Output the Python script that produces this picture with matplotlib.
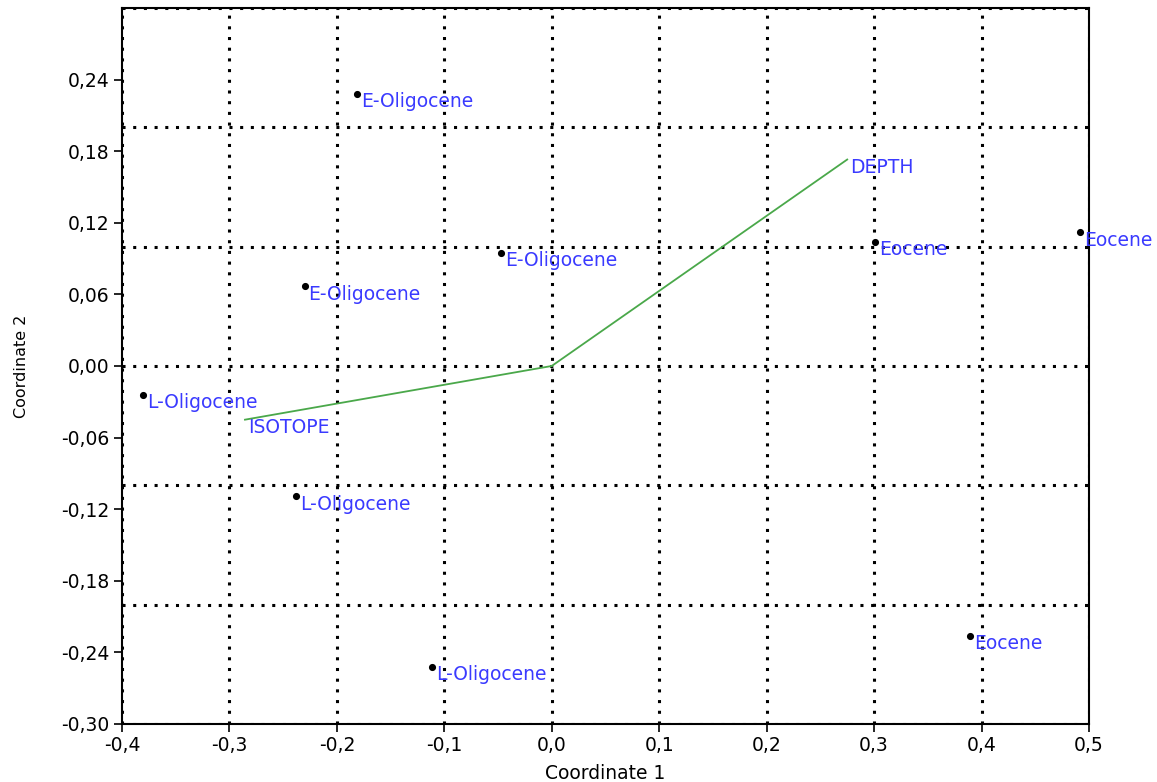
import matplotlib
matplotlib.use("Agg")
import matplotlib.pyplot as plt
import numpy as np

labels = ["E-Oligocene", "E-Oligocene", "E-Oligocene",
          "L-Oligocene", "L-Oligocene", "L-Oligocene",
          "Eocene", "Eocene", "Eocene"]
coord1 = [-0.181, -0.230, -0.047, -0.380, -0.238, -0.111, 0.301, 0.492, 0.389]
coord2 = [0.228, 0.067, 0.095, -0.024, -0.109, -0.252, 0.104, 0.112, -0.226]

vec_names = ["DEPTH", "ISOTOPE"]
vec_x = [0.275, -0.2855]
vec_y = [0.173, -0.045]

xticks = [-0.4, -0.3, -0.2, -0.1, 0.0, 0.1, 0.2, 0.3, 0.4, 0.5]
yticks = [-0.30, -0.24, -0.18, -0.12, -0.06, 0.00, 0.06, 0.12, 0.18, 0.24]
xgrid = [-0.4, -0.3, -0.2, -0.1, 0.0, 0.1, 0.2, 0.3, 0.4, 0.5]
ygrid = [-0.3, -0.2, -0.1, 0.0, 0.1, 0.2, 0.3]

plt.rcParams['font.family'] = ['DejaVu Sans']

fig = plt.figure(figsize=(11.57, 7.82), dpi=100)
ax = fig.add_axes([0.1054, 0.0742, 0.9412 - 0.1054, 0.9898 - 0.0742])

ax.set_xlim(-0.4, 0.5)
ax.set_ylim(-0.30, 0.30)

for gx in xgrid:
    ax.axvline(gx, color='black', linestyle=(0, (1, 2.5)), linewidth=2.2, zorder=1)
for gy in ygrid:
    ax.axhline(gy, color='black', linestyle=(0, (1, 2.5)), linewidth=2.2, zorder=1)

blue = '#3a3aff'
green = '#4aa84a'

for vx, vy, name in zip(vec_x, vec_y, vec_names):
    ax.plot([0, vx], [0, vy], color=green, linewidth=1.3, zorder=2)
    ax.annotate(name, (vx, vy), xytext=(3, -8), textcoords='offset pixels',
                color=blue, fontsize=13.5, ha='left', va='center', zorder=4)

ax.scatter(coord1, coord2, s=17, color='black', zorder=3)
for x, y, lab in zip(coord1, coord2, labels):
    ax.annotate(lab, (x, y), xytext=(4, -8), textcoords='offset pixels',
                color=blue, fontsize=13.5, ha='left', va='center', zorder=4)

ax.set_xticks(xticks)
ax.set_xticklabels([f"{v:.1f}".replace('.', ',') for v in xticks])
ax.set_yticks(yticks)
ax.set_yticklabels([f"{v:.2f}".replace('.', ',') for v in yticks])
ax.tick_params(labelsize=13.5, length=6, width=1.2, colors='black', pad=3)

for sp in ax.spines.values():
    sp.set_linewidth(1.5)

ax.set_xlabel("Coordinate 1", fontsize=13.5, labelpad=6)
ax.set_ylabel("Coordinate 2", fontsize=11.5, labelpad=23)

fig.savefig("out.png", dpi=100)
